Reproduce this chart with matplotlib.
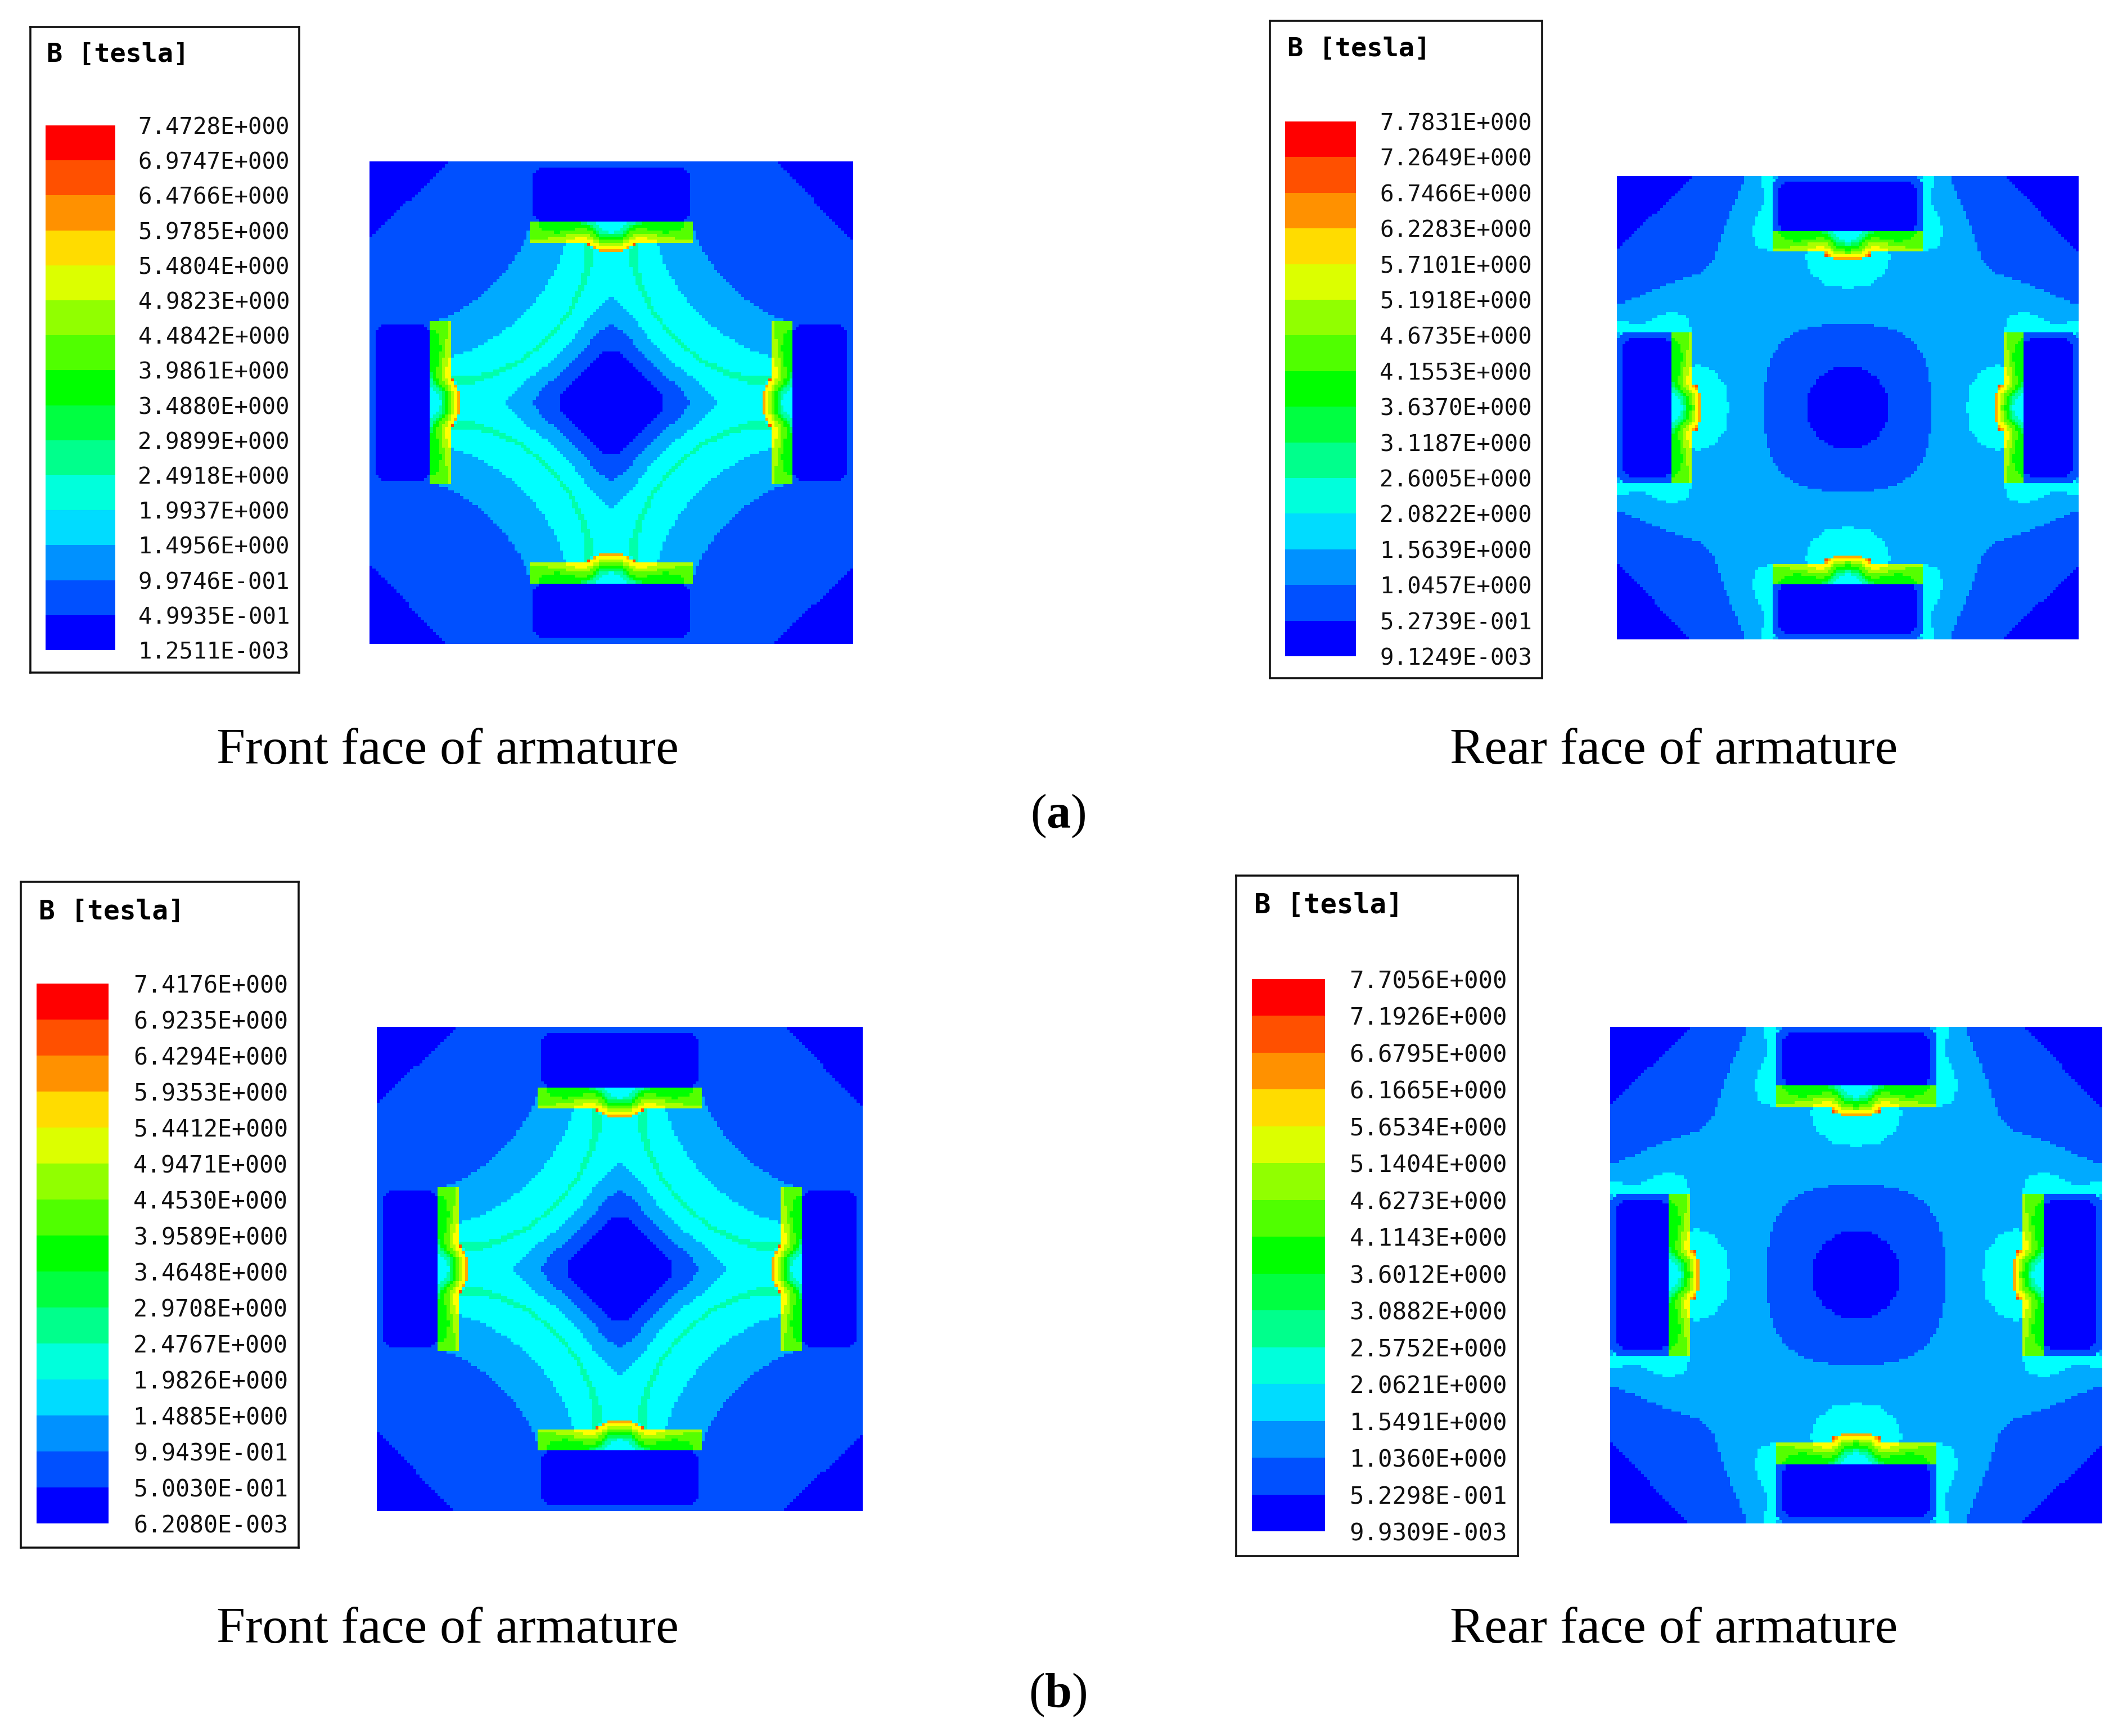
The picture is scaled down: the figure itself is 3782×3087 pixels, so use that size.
import numpy as np
import matplotlib
matplotlib.use("Agg")
import matplotlib.pyplot as plt
from matplotlib.colors import ListedColormap
from matplotlib.path import Path

plt.rcParams['mathtext.fontset'] = 'custom'
plt.rcParams['mathtext.rm'] = 'Liberation Serif'
plt.rcParams['mathtext.bf'] = 'Liberation Serif:bold'

W, H = 3782, 3087

# ---------- legend data (top to bottom) ----------
legend_colors = ['#ff0000', '#ff5000', '#ff9100', '#ffdc00', '#dcff00', '#91ff00', '#50ff00',
                 '#00ff00', '#00ff41', '#00ff8c', '#00ffdc', '#00dcff', '#0091ff', '#0050ff', '#0000ff']
labels_a_front = ['7.4728E+000', '6.9747E+000', '6.4766E+000', '5.9785E+000', '5.4804E+000', '4.9823E+000',
                  '4.4842E+000', '3.9861E+000', '3.4880E+000', '2.9899E+000', '2.4918E+000', '1.9937E+000',
                  '1.4956E+000', '9.9746E-001', '4.9935E-001', '1.2511E-003']
labels_a_rear = ['7.7831E+000', '7.2649E+000', '6.7466E+000', '6.2283E+000', '5.7101E+000', '5.1918E+000',
                 '4.6735E+000', '4.1553E+000', '3.6370E+000', '3.1187E+000', '2.6005E+000', '2.0822E+000',
                 '1.5639E+000', '1.0457E+000', '5.2739E-001', '9.1249E-003']
labels_b_front = ['7.4176E+000', '6.9235E+000', '6.4294E+000', '5.9353E+000', '5.4412E+000', '4.9471E+000',
                  '4.4530E+000', '3.9589E+000', '3.4648E+000', '2.9708E+000', '2.4767E+000', '1.9826E+000',
                  '1.4885E+000', '9.9439E-001', '5.0030E-001', '6.2080E-003']
labels_b_rear = ['7.7056E+000', '7.1926E+000', '6.6795E+000', '6.1665E+000', '5.6534E+000', '5.1404E+000',
                 '4.6273E+000', '4.1143E+000', '3.6012E+000', '3.0882E+000', '2.5752E+000', '2.0621E+000',
                 '1.5491E+000', '1.0360E+000', '5.2298E-001', '9.9309E-003']

# ---------- field colours (level index -> colour) ----------
field_colors = ['#0000ff', '#0050ff', '#00aaff', '#00ffff', '#00ffaa', '#00ff55', '#00ff00',
                '#55ff00', '#aaff00', '#ffff00', '#ffaa00', '#ff5000', '#ff0000']

# ---------- contour outlines (normalised, one octant / one side) ----------
corner_cut = [(0.68, 1.0), (1.0, 1.0), (1.0, 0.67)]
front_star = [(0, 0.74), (0.335, 0.74), (0.36, 0.66), (0.402, 0.596), (0.44, 0.54), (0.49, 0.49)]
front_cyan = [(0, 0.66), (0.19, 0.66), (0.225, 0.555), (0.29, 0.455), (0.362, 0.363)]
front_hole2 = [(0, 0.437), (0.03, 0.42), (0.108, 0.33), (0.16, 0.263), (0.21, 0.21)]
front_hole1 = [(0, 0.323), (0.06, 0.285), (0.108, 0.223), (0.165, 0.165)]
front_hole0 = [(0, 0.22), (0.03, 0.21), (0.08, 0.165), (0.125, 0.125)]
arc_x = [0.10, 0.095, 0.125, 0.175, 0.245, 0.268]
arc_y = [0.663, 0.57, 0.47, 0.37, 0.285, 0.268]
arc_hw = [0.018, 0.016, 0.012, 0.009, 0.0075, 0.0075]
front_magnet = [(0, 0.98), (0.295, 0.98), (0.32, 0.95), (0.32, 0.78), (0.30, 0.753), (0, 0.753)]

rear_outer = [(0.442, 1), (0.5, 0.86), (0.541, 0.758), (0.587, 0.627), (0.627, 0.587),
              (0.758, 0.541), (0.86, 0.5), (1, 0.442), (1, 1)]
rear_square = [(0, 0.365), (0.1, 0.36), (0.19, 0.34), (0.25, 0.31), (0.285, 0.285)]
rear_circle = [(0, 0.18), (0.07, 0.166), (0.127, 0.127)]
rear_lobe = [(0, 0.515), (0.1, 0.53), (0.165, 0.587), (0.19, 0.665), (0, 0.70)]
rear_surround = [(0, 1.0), (0.376, 1.0), (0.36, 0.9), (0.415, 0.772), (0.39, 0.69), (0.33, 0.675), (0, 0.675)]
rear_topstrip = [(0, 1.0), (0.33, 1.0), (0.33, 0.985), (0, 0.985)]
rear_rim = [(0, 0.995), (0.305, 0.995), (0.327, 0.97), (0.327, 0.755), (0, 0.755)]
rear_magnet = [(0, 0.97), (0.28, 0.97), (0.30, 0.945), (0.30, 0.80), (0.28, 0.765), (0, 0.765)]

# bar isolines: offset from bar centre and depth in source pixels
bar_outline = ([0, 60, 75, 100, 118, 125, 425], [195, 195, 190, 178, 160, 155, 155])
bar_levels = [
    (9, [0, 60, 90, 110, 125, 170, 250, 425], [185, 185, 172, 158, 146, 146, 155, 155]),
    (8, [0, 60, 90, 110, 130, 160, 220, 260, 425], [170, 165, 152, 135, 125, 122, 138, 150, 155]),
    (7, [0, 60, 90, 110, 130, 160, 220, 300, 425], [160, 150, 130, 115, 105, 100, 110, 125, 140]),
    (6, [0, 60, 90, 110, 130, 160, 220, 300, 370, 385], [145, 130, 105, 90, 80, 75, 95, 100, 80, 48]),
    (5, [0, 60, 90, 110, 140, 180], [128, 113, 85, 70, 55, 48]),
    (4, [0, 60, 90, 110, 125], [115, 100, 70, 55, 48]),
    (3, [0, 40, 70, 85], [100, 95, 65, 48]),
]
bar_spots = [(11, [105, 122, 122, 105], [160, 160, 172, 172]),
             (12, [128, 143, 143, 128], [146, 146, 156, 156])]

# ---------- layout in reference pixels ----------
panel_a_front = (657, 287, 1517, 1145)
panel_a_rear = (2875, 313, 3696, 1137)
panel_b_front = (670, 1826, 1534, 2687)
panel_b_rear = (2863, 1826, 3738, 2709)
N = 160

xc = (np.arange(N) + 0.5) / N * 2 - 1
GX, GY = np.meshgrid(xc, xc)
GP = np.column_stack([GX.ravel(), GY.ravel()])


def paint(f, poly, level):
    f[Path(np.array(poly, float), closed=False).contains_points(GP).reshape(N, N)] = level


def rot(poly, k):
    p = [(x, y) for x, y in poly]
    for _ in range(k):
        p = [(y, -x) for x, y in p]
    return p


def loop8(oct_pts):
    q = list(oct_pts) + [(y, x) for x, y in reversed(oct_pts)]
    out = []
    for k in range(4):
        out += rot(q, k)
    return out


def mirror_h(side):
    return list(side) + [(-x, y) for x, y in reversed(side)]


def paint4(f, poly, level):
    for k in range(4):
        paint(f, rot(poly, k), level)


def paint_bars(f, ytop, ybot, hw):
    def X(d): return np.array(d, float) / 425 * hw
    def Y(z): return ytop - (np.array(z, float) - 48) / 107 * (ytop - ybot)
    def shape(dx, dz):
        return mirror_h([(0, ytop), (float(X(dx)[-1]), ytop)] + list(zip(X(dx)[::-1], Y(dz)[::-1])))
    paint4(f, shape(*bar_outline), 10)
    for lev, dx, dz in bar_levels:
        paint4(f, shape(dx, dz), lev)
    for lev, dx, dz in bar_spots:
        q = list(zip(X(dx), Y(dz)))
        paint4(f, q, lev)
        paint4(f, [(-a, b) for a, b in q], lev)


def arc_polygon():
    cx, cy, hw = np.array(arc_x), np.array(arc_y), np.array(arc_hw)
    cx2 = np.r_[cx, cy[-2::-1]]
    cy2 = np.r_[cy, cx[-2::-1]]
    hw2 = np.r_[hw, hw[-2::-1]]
    tx, ty = np.gradient(cx2), np.gradient(cy2)
    n = np.hypot(tx, ty)
    nx, ny = -ty / n, tx / n
    a = list(zip(cx2 + nx * hw2, cy2 + ny * hw2))
    b = list(zip(cx2 - nx * hw2, cy2 - ny * hw2))
    return a + b[::-1]


def front_field():
    f = np.full((N, N), 1)
    paint4(f, corner_cut, 0)
    paint(f, loop8(front_star), 2)
    paint(f, loop8(front_cyan), 3)
    paint4(f, arc_polygon(), 4)
    paint(f, loop8(front_hole2), 2)
    paint(f, loop8(front_hole1), 1)
    paint(f, loop8(front_hole0), 0)
    paint4(f, mirror_h(front_magnet), 0)
    paint_bars(f, 0.746, 0.661, 0.336)
    return f


def rear_field():
    f = np.full((N, N), 2)
    paint4(f, rear_outer, 1)
    paint4(f, corner_cut, 0)
    paint(f, loop8(rear_square), 1)
    paint(f, loop8(rear_circle), 0)
    paint4(f, mirror_h(rear_lobe), 3)
    paint4(f, mirror_h(rear_surround), 3)
    paint4(f, mirror_h(rear_topstrip), 2)
    paint4(f, mirror_h(rear_rim), 1)
    paint4(f, mirror_h(rear_magnet), 0)
    paint_bars(f, 0.761, 0.67, 0.331)
    return f


fig = plt.figure(figsize=(W / 100, H / 100), dpi=100, facecolor='white')
cmap = ListedColormap(field_colors)


def axes_px(x0, y0, x1, y1, **kw):
    return fig.add_axes([x0 / W, 1 - y1 / H, (x1 - x0) / W, (y1 - y0) / H], **kw)


def draw_panel(rect, field):
    ax = axes_px(*rect)
    ax.imshow(field, origin='lower', extent=(-1, 1, -1, 1), cmap=cmap, vmin=-0.5,
              vmax=len(field_colors) - 0.5, interpolation='nearest', aspect='auto')
    ax.axis('off')


def draw_legend(box, bar, text_right, title_xy, labels, char_w):
    bx = axes_px(*box, facecolor='white')
    bx.set_xticks([]); bx.set_yticks([])
    for s in bx.spines.values():
        s.set_linewidth(2.6)
        s.set_color('#111111')
    ax = axes_px(*bar)
    n = len(legend_colors)
    ax.barh(np.arange(n) + 0.5, np.ones(n), height=1.0, color=legend_colors, linewidth=0)
    ax.set_xlim(0, 1); ax.set_ylim(n, 0)
    ax.axis('off')
    fs = char_w / 0.602 * 0.72
    for i, t in enumerate(labels):
        y = bar[1] + (bar[3] - bar[1]) * i / n
        fig.text(text_right / W, 1 - y / H, t, family='DejaVu Sans Mono', fontsize=fs,
                 ha='right', va='center_baseline', color='#111111')
    fig.text(title_xy[0] / W, 1 - title_xy[1] / H, 'B [tesla]', family='DejaVu Sans Mono',
             fontweight='bold', fontsize=fs * 1.15, ha='left', va='center_baseline', color='black')


ff = front_field()
rf = rear_field()
draw_panel(panel_a_front, ff)
draw_panel(panel_a_rear, rf)
draw_panel(panel_b_front, ff)
draw_panel(panel_b_rear, rf)

draw_legend((54, 48, 532, 1196), (81, 223, 205, 1156), 515, (83, 93), labels_a_front, 24.5)
draw_legend((2258, 37, 2742, 1206), (2285, 216, 2411, 1167), 2724, (2289, 83), labels_a_rear, 24.6)
draw_legend((37, 1568, 531, 2752), (65, 1749, 193, 2709), 512, (69, 1617), labels_b_front, 25.0)
draw_legend((2198, 1557, 2699, 2767), (2226, 1741, 2356, 2723), 2680, (2230, 1605), labels_b_rear, 25.5)

cap_fs = 66
for (x, y, t) in [(796, 1358, 'Front face of armature'), (2976, 1358, 'Rear face of armature'),
                  (796, 2921, 'Front face of armature'), (2976, 2921, 'Rear face of armature')]:
    fig.text(x / W, 1 - y / H, t, family='Liberation Serif', fontsize=cap_fs, ha='center', va='baseline', color='black')
for (x, y, t) in [(1881, 1472, r'($\mathbf{a}$)'), (1881, 3035, r'($\mathbf{b}$)')]:
    fig.text(x / W, 1 - y / H, t, family='Liberation Serif', fontsize=cap_fs - 4, ha='center', va='baseline', color='black')

fig.savefig('out.png', dpi=100)
